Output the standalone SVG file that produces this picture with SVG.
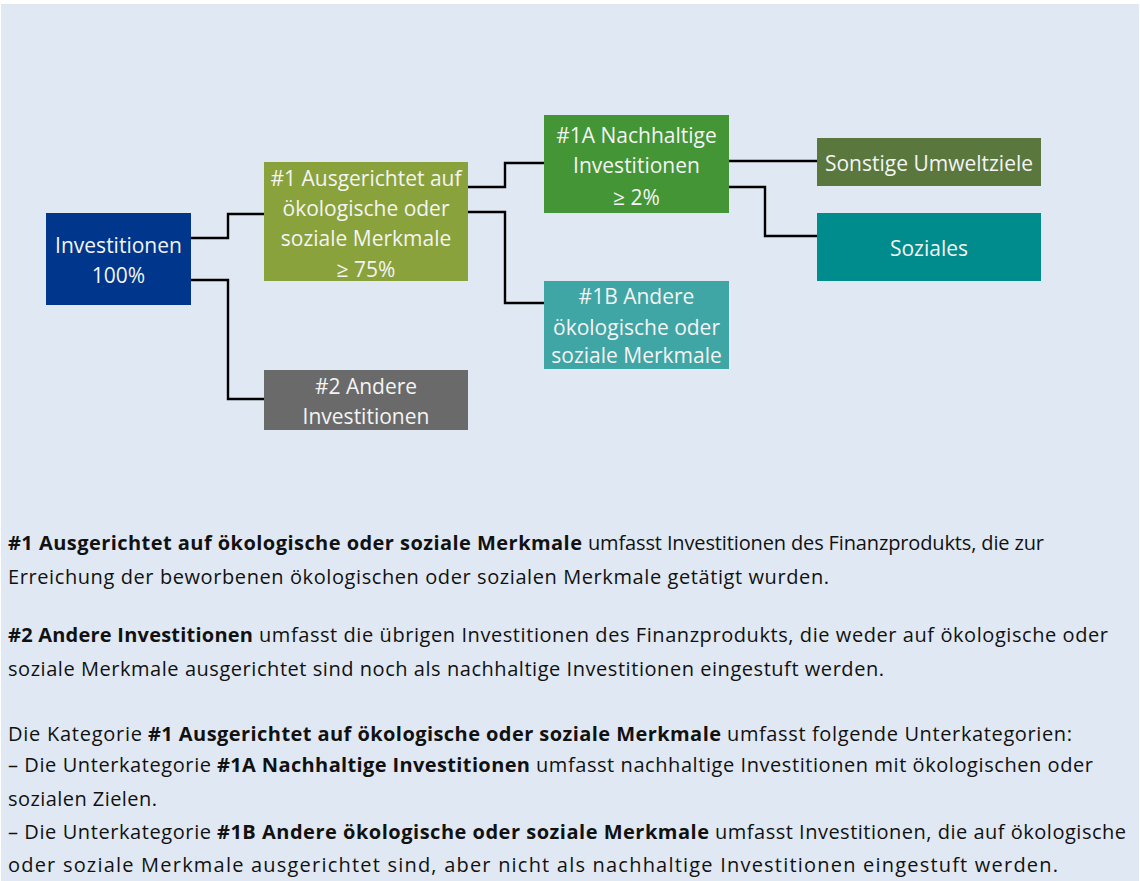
<svg xmlns="http://www.w3.org/2000/svg" width="1140" height="881" viewBox="0 0 1140 881">
<style>
.nt{font-family:"Open Sans","Noto Sans",sans-serif;font-size:21px;fill:#f4f4f4;text-anchor:middle}
.bt{font-family:"Open Sans","Noto Sans",sans-serif;font-size:20px;fill:#111111}
.b{font-weight:bold}
.c{fill:none;stroke:#000;stroke-width:2.4}
</style>
<rect x="0" y="0" width="1140" height="881" fill="#ffffff"/>
<rect x="1" y="4" width="1138" height="877" fill="#e0e8f3"/>
<g id="connectors">
<path class="c" d="M191 238H228V214H264"/>
<path class="c" d="M191 280H228V399H264"/>
<path class="c" d="M468 187H505V163H544"/>
<path class="c" d="M468 212H505V303H544"/>
<path class="c" d="M729 161H817"/>
<path class="c" d="M729 187H765V236H817"/>
</g>
<g id="investitionen">
<rect x="46" y="213" width="145" height="92" fill="#00368c"/>
<text class="nt" x="118.5" y="253">Investitionen</text>
<text class="nt" x="118.5" y="283">100%</text>
</g>
<g id="n1">
<rect x="264" y="162" width="204" height="119" fill="#8aa23b"/>
<text class="nt" x="366" y="186">#1 Ausgerichtet auf</text>
<text class="nt" x="366" y="216">ökologische oder</text>
<text class="nt" x="366" y="246">soziale Merkmale</text>
<text class="nt" x="366" y="277">≥ 75%</text>
</g>
<g id="n2">
<rect x="264" y="370" width="204" height="60" fill="#6a6a6a"/>
<text class="nt" x="366" y="394">#2 Andere</text>
<text class="nt" x="366" y="424">Investitionen</text>
</g>
<g id="n1a">
<rect x="544" y="115" width="185" height="98" fill="#439535"/>
<text class="nt" x="636.5" y="143">#1A Nachhaltige</text>
<text class="nt" x="636.5" y="173">Investitionen</text>
<text class="nt" x="636.5" y="205">≥ 2%</text>
</g>
<g id="n1b">
<rect x="544" y="281" width="185" height="88" fill="#3fa5a5"/>
<text class="nt" x="636.5" y="304">#1B Andere</text>
<text class="nt" x="636.5" y="335">ökologische oder</text>
<text class="nt" x="636.5" y="363">soziale Merkmale</text>
</g>
<g id="sonstige">
<rect x="817" y="138" width="224" height="48" fill="#5a773e"/>
<text class="nt" x="929" y="171">Sonstige Umweltziele</text>
</g>
<g id="soziales">
<rect x="817" y="213" width="224" height="68" fill="#008c8c"/>
<text class="nt" x="929" y="256">Soziales</text>
</g>
<g id="legend">
<text class="bt b" x="8" y="550" textLength="574" lengthAdjust="spacing">#1 Ausgerichtet auf ökologische oder soziale Merkmale</text>
<text class="bt" x="588" y="550" textLength="456" lengthAdjust="spacing">umfasst Investitionen des Finanzprodukts, die zur</text>
<text class="bt" x="8" y="584" textLength="821" lengthAdjust="spacing">Erreichung der beworbenen ökologischen oder sozialen Merkmale getätigt wurden.</text>
<text class="bt b" x="8" y="642" textLength="245" lengthAdjust="spacing">#2 Andere Investitionen</text>
<text class="bt" x="259" y="642" textLength="849" lengthAdjust="spacing">umfasst die übrigen Investitionen des Finanzprodukts, die weder auf ökologische oder</text>
<text class="bt" x="8" y="676" textLength="876" lengthAdjust="spacing">soziale Merkmale ausgerichtet sind noch als nachhaltige Investitionen eingestuft werden.</text>
<text class="bt" x="8" y="741" textLength="134" lengthAdjust="spacing">Die Kategorie</text>
<text class="bt b" x="148" y="741" textLength="573" lengthAdjust="spacing">#1 Ausgerichtet auf ökologische oder soziale Merkmale</text>
<text class="bt" x="727" y="741" textLength="345" lengthAdjust="spacing">umfasst folgende Unterkategorien:</text>
<text class="bt" x="8" y="772" textLength="203" lengthAdjust="spacing">– Die Unterkategorie</text>
<text class="bt b" x="217" y="772" textLength="313" lengthAdjust="spacing">#1A Nachhaltige Investitionen</text>
<text class="bt" x="536" y="772" textLength="557" lengthAdjust="spacing">umfasst nachhaltige Investitionen mit ökologischen oder</text>
<text class="bt" x="8" y="806" textLength="149" lengthAdjust="spacing">sozialen Zielen.</text>
<text class="bt" x="8" y="839" textLength="203" lengthAdjust="spacing">– Die Unterkategorie</text>
<text class="bt b" x="217" y="839" textLength="492" lengthAdjust="spacing">#1B Andere ökologische oder soziale Merkmale</text>
<text class="bt" x="715" y="839" textLength="411" lengthAdjust="spacing">umfasst Investitionen, die auf ökologische</text>
<text class="bt" x="8" y="872" textLength="1050" lengthAdjust="spacing">oder soziale Merkmale ausgerichtet sind, aber nicht als nachhaltige Investitionen eingestuft werden.</text>
</g>
</svg>
